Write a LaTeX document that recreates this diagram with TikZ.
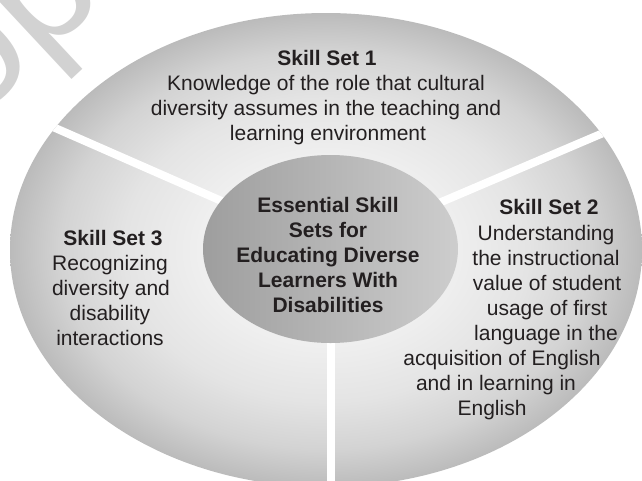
\documentclass[tikz,border=0pt]{standalone}
\usepackage{fontspec}
\setmainfont{Liberation Sans}
\definecolor{ringA}{HTML}{EFEFEF}
\definecolor{ringB}{HTML}{E4E4E4}
\definecolor{ringC}{HTML}{D3D3D3}
\definecolor{ringD}{HTML}{BBBBBB}
\definecolor{coreL}{HTML}{9E9E9E}
\definecolor{coreM}{HTML}{C0C0C0}
\definecolor{coreR}{HTML}{CDCDCD}
\definecolor{txt}{HTML}{231F20}
\definecolor{wm}{HTML}{D2D2D2}
\pgfdeclareradialshading{ringshade}{\pgfpoint{0bp}{0bp}}{color(0bp)=(ringA); color(10bp)=(ringA); color(16bp)=(ringB); color(21bp)=(ringC); color(25bp)=(ringD); color(50bp)=(ringD)}
\begin{document}
\begin{tikzpicture}[x=1pt,y=-1pt,
  every node/.style={inner sep=0pt, outer sep=0pt, text=txt},
  lbl/.style={anchor=base, font=\fontsize{21}{25}\selectfont},
  ttl/.style={anchor=base, font=\fontsize{21}{25}\selectfont\bfseries},
  divider/.style={draw=white, line width=8pt},
]
\useasboundingbox (0,0) rectangle (642,480);
\clip (0,0) rectangle (642,480);
% watermark
\node[rotate=43, anchor=base west, text=wm, font=\fontsize{170}{170}\selectfont] (wmark) at (-92,184) {cop\kern28pt y};
% outer ring
\shade[shading=ringshade] (326,250) ellipse [x radius=316pt, y radius=237pt];
% dividers
\coordinate (c) at (331,249);
\coordinate (d1) at (-20,95);
\coordinate (d2) at (690,96);
\coordinate (d3) at (331,520);
\begin{scope}
  \clip (326,250) ellipse [x radius=316pt, y radius=237pt];
  \draw[divider] (c) -- (d1);
  \draw[divider] (c) -- (d2);
  \draw[divider] (c) -- (d3);
\end{scope}
% core
\shade[left color=coreL, middle color=coreM, right color=coreR] (330.5,249) ellipse [x radius=127.5pt, y radius=94pt];
% core text
\node[ttl] (e1) at (328,212) {Essential Skill};
\node[ttl] (e2) at (328,237) {Sets for};
\node[ttl] (e3) at (328,262) {Educating Diverse};
\node[ttl] (e4) at (328,287) {Learners With};
\node[ttl] (e5) at (328,312) {Disabilities};
% skill set 1
\node[ttl] (a0) at (327,65) {Skill Set 1};
\node[lbl] (a1) at (326,90) {Knowledge of the role that cultural};
\node[lbl] (a2) at (326,115) {diversity assumes in the teaching and};
\node[lbl] (a3) at (328,140) {learning environment};
% skill set 2
\node[ttl] (b0) at (549,214) {Skill Set 2};
\node[lbl] (b1) at (546,240) {Understanding};
\node[lbl] (b2) at (546,265) {the instructional};
\node[lbl] (b3) at (547,290) {value of student};
\node[lbl] (b4) at (547,315) {usage of first};
\node[lbl] (b5) at (546,340) {language in the};
\node[lbl] (b6) at (502,365) {acquisition of English};
\node[lbl] (b7) at (496,390) {and in learning in};
\node[lbl] (b8) at (492,415) {English};
% skill set 3
\node[ttl] (s0) at (113,245) {Skill Set 3};
\node[lbl] (s1) at (110,270) {Recognizing};
\node[lbl] (s2) at (111,295) {diversity and};
\node[lbl] (s3) at (110,320) {disability};
\node[lbl] (s4) at (110,345) {interactions};
\end{tikzpicture}
\end{document}
